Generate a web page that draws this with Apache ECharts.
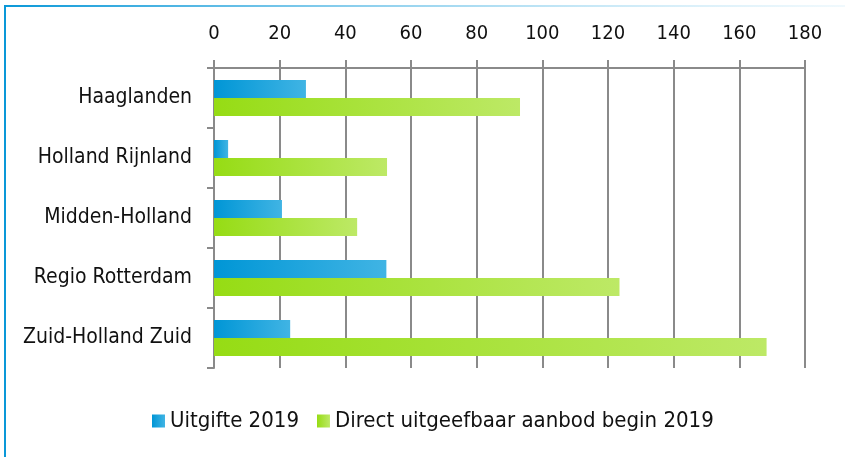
<!DOCTYPE html>
<html>
<head>
<meta charset="utf-8">
<script src="https://cdn.jsdelivr.net/npm/echarts@6/dist/echarts.min.js"></script>
<style>
  html, body { margin: 0; padding: 0; background: #fff; }
  #chart { width: 845px; height: 457px; }
</style>
</head>
<body>
<div id="chart"></div>
<script>
const regions = ['Haaglanden', 'Holland Rijnland', 'Midden-Holland', 'Regio Rotterdam', 'Zuid-Holland Zuid']
const uitgifte = [28, 4.3, 20.7, 52.5, 23.2]
const aanbod = [93.2, 52.7, 43.6, 123.5, 168.3]
const seriesNames = ['Uitgifte 2019', 'Direct uitgeefbaar aanbod begin 2019']

const fontFamily = '"DejaVu Sans Condensed", "Liberation Sans Narrow", "Roboto", sans-serif'
const gridColor = '#8a8a8a'

function hGradient(from, to) {
  return new echarts.graphic.LinearGradient(0, 0, 1, 0, [
    { offset: 0, color: from },
    { offset: 1, color: to }
  ])
}

const chart = echarts.init(document.getElementById('chart'))

const option = {
  animation: false,
  backgroundColor: '#fff',
  textStyle: { fontFamily: fontFamily },
  graphic: [
    {
      type: 'rect',
      left: 4, top: 5,
      shape: { width: 841, height: 2 },
      style: { fill: hGradient('#0a98d8', 'rgba(180,225,245,0.2)') }
    },
    {
      type: 'rect',
      left: 4, top: 5,
      shape: { width: 2, height: 452 },
      style: { fill: '#0a98d8' }
    }
  ],
  grid: {
    left: 214,
    right: 40,
    top: 68,
    bottom: 89
  },
  legend: {
    bottom: 20,
    left: 147,
    itemWidth: 13,
    itemHeight: 13,
    itemGap: 18,
    icon: 'rect',
    textStyle: { fontSize: 22, color: '#111', fontFamily: fontFamily },
    data: seriesNames
  },
  xAxis: {
    type: 'value',
    position: 'top',
    min: 0,
    max: 180,
    interval: 20,
    axisLine: { show: true, lineStyle: { color: gridColor, width: 2 } },
    axisTick: { show: true, length: 8, lineStyle: { color: gridColor, width: 2 } },
    axisLabel: { fontSize: 20, color: '#111', margin: 24 },
    splitLine: { show: true, lineStyle: { color: gridColor, width: 2 } }
  },
  yAxis: {
    type: 'category',
    inverse: true,
    data: regions,
    axisLine: { show: true, lineStyle: { color: gridColor, width: 2 } },
    axisTick: { show: true, length: 7, lineStyle: { color: gridColor, width: 2 } },
    axisLabel: { fontSize: 21, color: '#111', margin: 22 }
  },
  series: [
    {
      name: seriesNames[0],
      type: 'bar',
      data: uitgifte,
      barWidth: 18,
      barGap: '0%',
      itemStyle: { color: hGradient('#0096d6', '#40b4e4') }
    },
    {
      name: seriesNames[1],
      type: 'bar',
      data: aanbod,
      barWidth: 18,
      barGap: '0%',
      itemStyle: { color: hGradient('#96dc14', '#bde966') }
    }
  ]
}

chart.setOption(option)
window.addEventListener('resize', () => chart.resize())
</script>
</body>
</html>
